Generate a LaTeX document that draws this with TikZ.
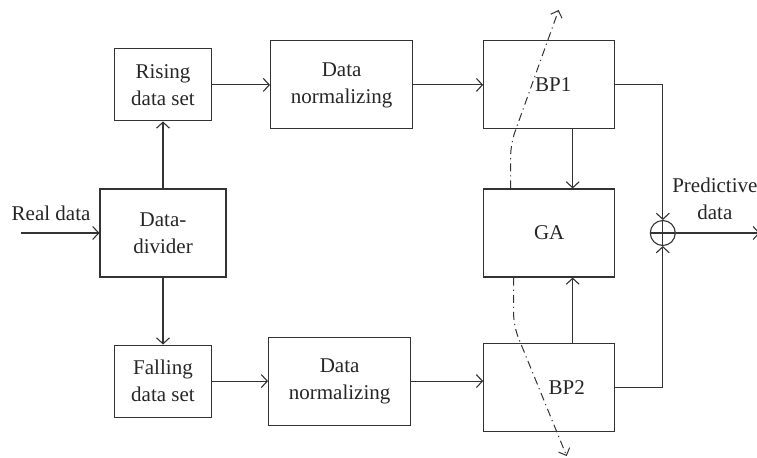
\documentclass[tikz,border=0pt]{standalone}
\usepackage{fontspec}
\setmainfont{Liberation Serif}
\usetikzlibrary{positioning, arrows.meta}

\begin{document}
\begin{tikzpicture}[
		font=\fontsize{10.5}{13.5}\selectfont,
		node distance=30pt,
		line width=0.55pt, draw=black!80, text=black!85,
		box/.style={draw=black!80, rectangle, align=center, inner sep=2pt, minimum height=44pt},
		setbox/.style={box, minimum width=48.5pt, minimum height=36pt},
		normbox/.style={box, minimum width=71pt},
		bpbox/.style={box, minimum width=65.5pt},
		sum/.style={draw=black!80, circle, minimum size=12.5pt, inner sep=0pt,
			path picture={\draw[black!80] (path picture bounding box.north) -- (path picture bounding box.south)
				(path picture bounding box.west) -- (path picture bounding box.east);}},
		arrow/.style={-{Straight Barb[length=3pt, width=6.5pt]}, draw=black!80},
		cutline/.style={-{Straight Barb[length=3pt, width=6pt]}, draw=black!80, line width=0.5pt, dash pattern=on 4pt off 2pt on 0.6pt off 2pt, rounded corners=6pt}
		]
		\useasboundingbox (-81.5pt,-112pt) rectangle (297pt,116.5pt);
		
		% Define Nodes
		\node[box, minimum width=63pt] (div) {Data-\\divider};
		\node[setbox, above=33.5pt of div] (rise) {Rising\\data set};
		\node[setbox, below=33.5pt of div] (fall) {Falling\\data set};
		
		\node[normbox, right=29pt of rise] (norm1) {Data\\normalizing};
		\node[normbox, right=28pt of fall] (norm2) {Data\\normalizing};
		
		\node[bpbox, right=35pt of norm1] (bp1) {\hspace*{4pt}BP1};
		\node[bpbox, below=29.5pt of bp1] (ga) {GA};
		\node[bpbox, below=32.5pt of ga] (bp2) {\hspace*{17.5pt}BP2};
		
		\node[sum, right=17.25pt of ga] (sum) {};
		
		\coordinate[left=39pt of div] (in);
		\coordinate[right=42pt of sum] (out);
		
		% Data flow
		\draw[arrow] (in) -- (div) node[pos=0.38, above=2.7pt] {Real data};
		\draw[arrow] (div) -- (rise);
		\draw[arrow] (div) -- (fall);
		\draw[arrow] (rise) -- (norm1);
		\draw[arrow] (fall) -- (norm2);
		\draw[arrow] (norm1) -- (bp1);
		\draw[arrow] (norm2.east) -- (norm2.east -| bp2.west);
		\draw[arrow] ([xshift=11.75pt]bp1.south) -- ([xshift=11.75pt]ga.north);
		\draw[arrow] ([xshift=11.75pt]bp2.north) -- ([xshift=11.75pt]ga.south);
		\draw[arrow] (bp1.east) -| (sum.north);
		\draw[arrow] (bp2.east) -| (sum.south);
		\draw[arrow] (sum) -- (out) node[midway, above=3pt, xshift=-1.5pt, align=center] {Predictive\\data};
		
		% Dash-dot cut through the BP/GA column
		\draw[cutline] ([xshift=13.75pt]ga.north west) -- ++(0,22.25pt) -- ++(24pt,67pt);
		\draw[cutline] ([xshift=15.25pt]ga.south west) -- ++(0,-24.25pt) -- ++(26.5pt,-65pt);
		
	\end{tikzpicture}
\end{document}
